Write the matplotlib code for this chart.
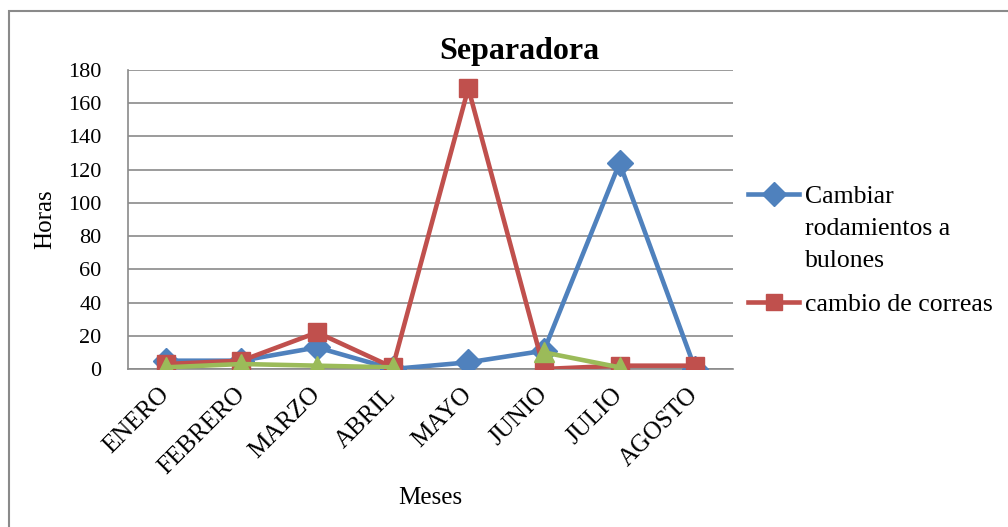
import matplotlib.pyplot as plt
from matplotlib.patches import Rectangle
import numpy as np

plt.rcParams['font.family'] = ['Liberation Serif', 'DejaVu Serif']

meses = ["ENERO", "FEBRERO", "MARZO", "ABRIL", "MAYO", "JUNIO", "JULIO", "AGOSTO"]
rodamientos = [5, 5, 13, 0, 4, 11, 124, 0]
correas = [3, 5, 22, 1, 169, 0, 2, 2]
otro = [1, 3, 2, 1, np.nan, 10, 1, np.nan]

W, H = 1008, 527
fig = plt.figure(figsize=(W / 100, H / 100), dpi=100)
ax = fig.add_axes([128 / W, 1 - 369 / H, 605 / W, 299 / H])

x = np.arange(len(meses))
l1, = ax.plot(x, rodamientos, color="#4F81BD", lw=3.3, marker="D", ms=13, zorder=3)
l2, = ax.plot(x, correas, color="#C0504D", lw=3.3, marker="s", ms=13, zorder=4)
ax.plot(x, otro, color="#9BBB59", lw=3.3, marker="^", ms=14, zorder=5)

ax.set_xlim(-0.5, len(meses) - 0.5)
ax.set_ylim(0, 180)
ax.set_yticks(range(0, 181, 20))
ax.set_xticks(x)
ax.set_xticklabels(meses, rotation=45, ha="right", va="center",
                   rotation_mode="anchor", fontsize=18)
ax.tick_params(axis="y", labelsize=16, length=0, pad=19)
ax.tick_params(axis="x", length=0, pad=16)
ax.grid(axis="y", color="#8a8a8a", lw=1.2)
ax.set_axisbelow(True)
for side in ["top", "right"]:
    ax.spines[side].set_visible(False)
for side in ["left", "bottom"]:
    ax.spines[side].set_color("#8a8a8a")
    ax.spines[side].set_linewidth(1.2)

ax.set_title("Separadora", fontsize=23, fontweight="bold", x=0.646, pad=8)
ax.set_ylabel("Horas", fontsize=18, labelpad=9)
ax.set_xlabel("Meses", fontsize=18, labelpad=6)

# leyenda: la primera entrada continúa en dos líneas más
fs = 18.5
leg = ax.legend([l1, l2], ["Cambiar", "cambio de correas"], loc="upper left",
                bbox_to_anchor=(748 / W, 1 - 185 / H), bbox_transform=fig.transFigure,
                frameon=False, fontsize=fs, borderpad=0, borderaxespad=0,
                handlelength=2.0, handletextpad=0.2, labelspacing=3.32)
for line in leg.get_lines():
    line.set_markersize(12)
fig.text(805 / W, 1 - 235 / H, "rodamientos a", fontsize=fs, va="baseline")
fig.text(805 / W, 1 - 267 / H, "bulones", fontsize=fs, va="baseline")

# marco exterior del gráfico
fig.patches.append(Rectangle((9 / W, -0.1), 1.2, 1 - 11 / H + 0.1,
                             transform=fig.transFigure, fill=False,
                             edgecolor="#8a8a8a", lw=1.5))

fig.savefig("out.png", dpi=100)
